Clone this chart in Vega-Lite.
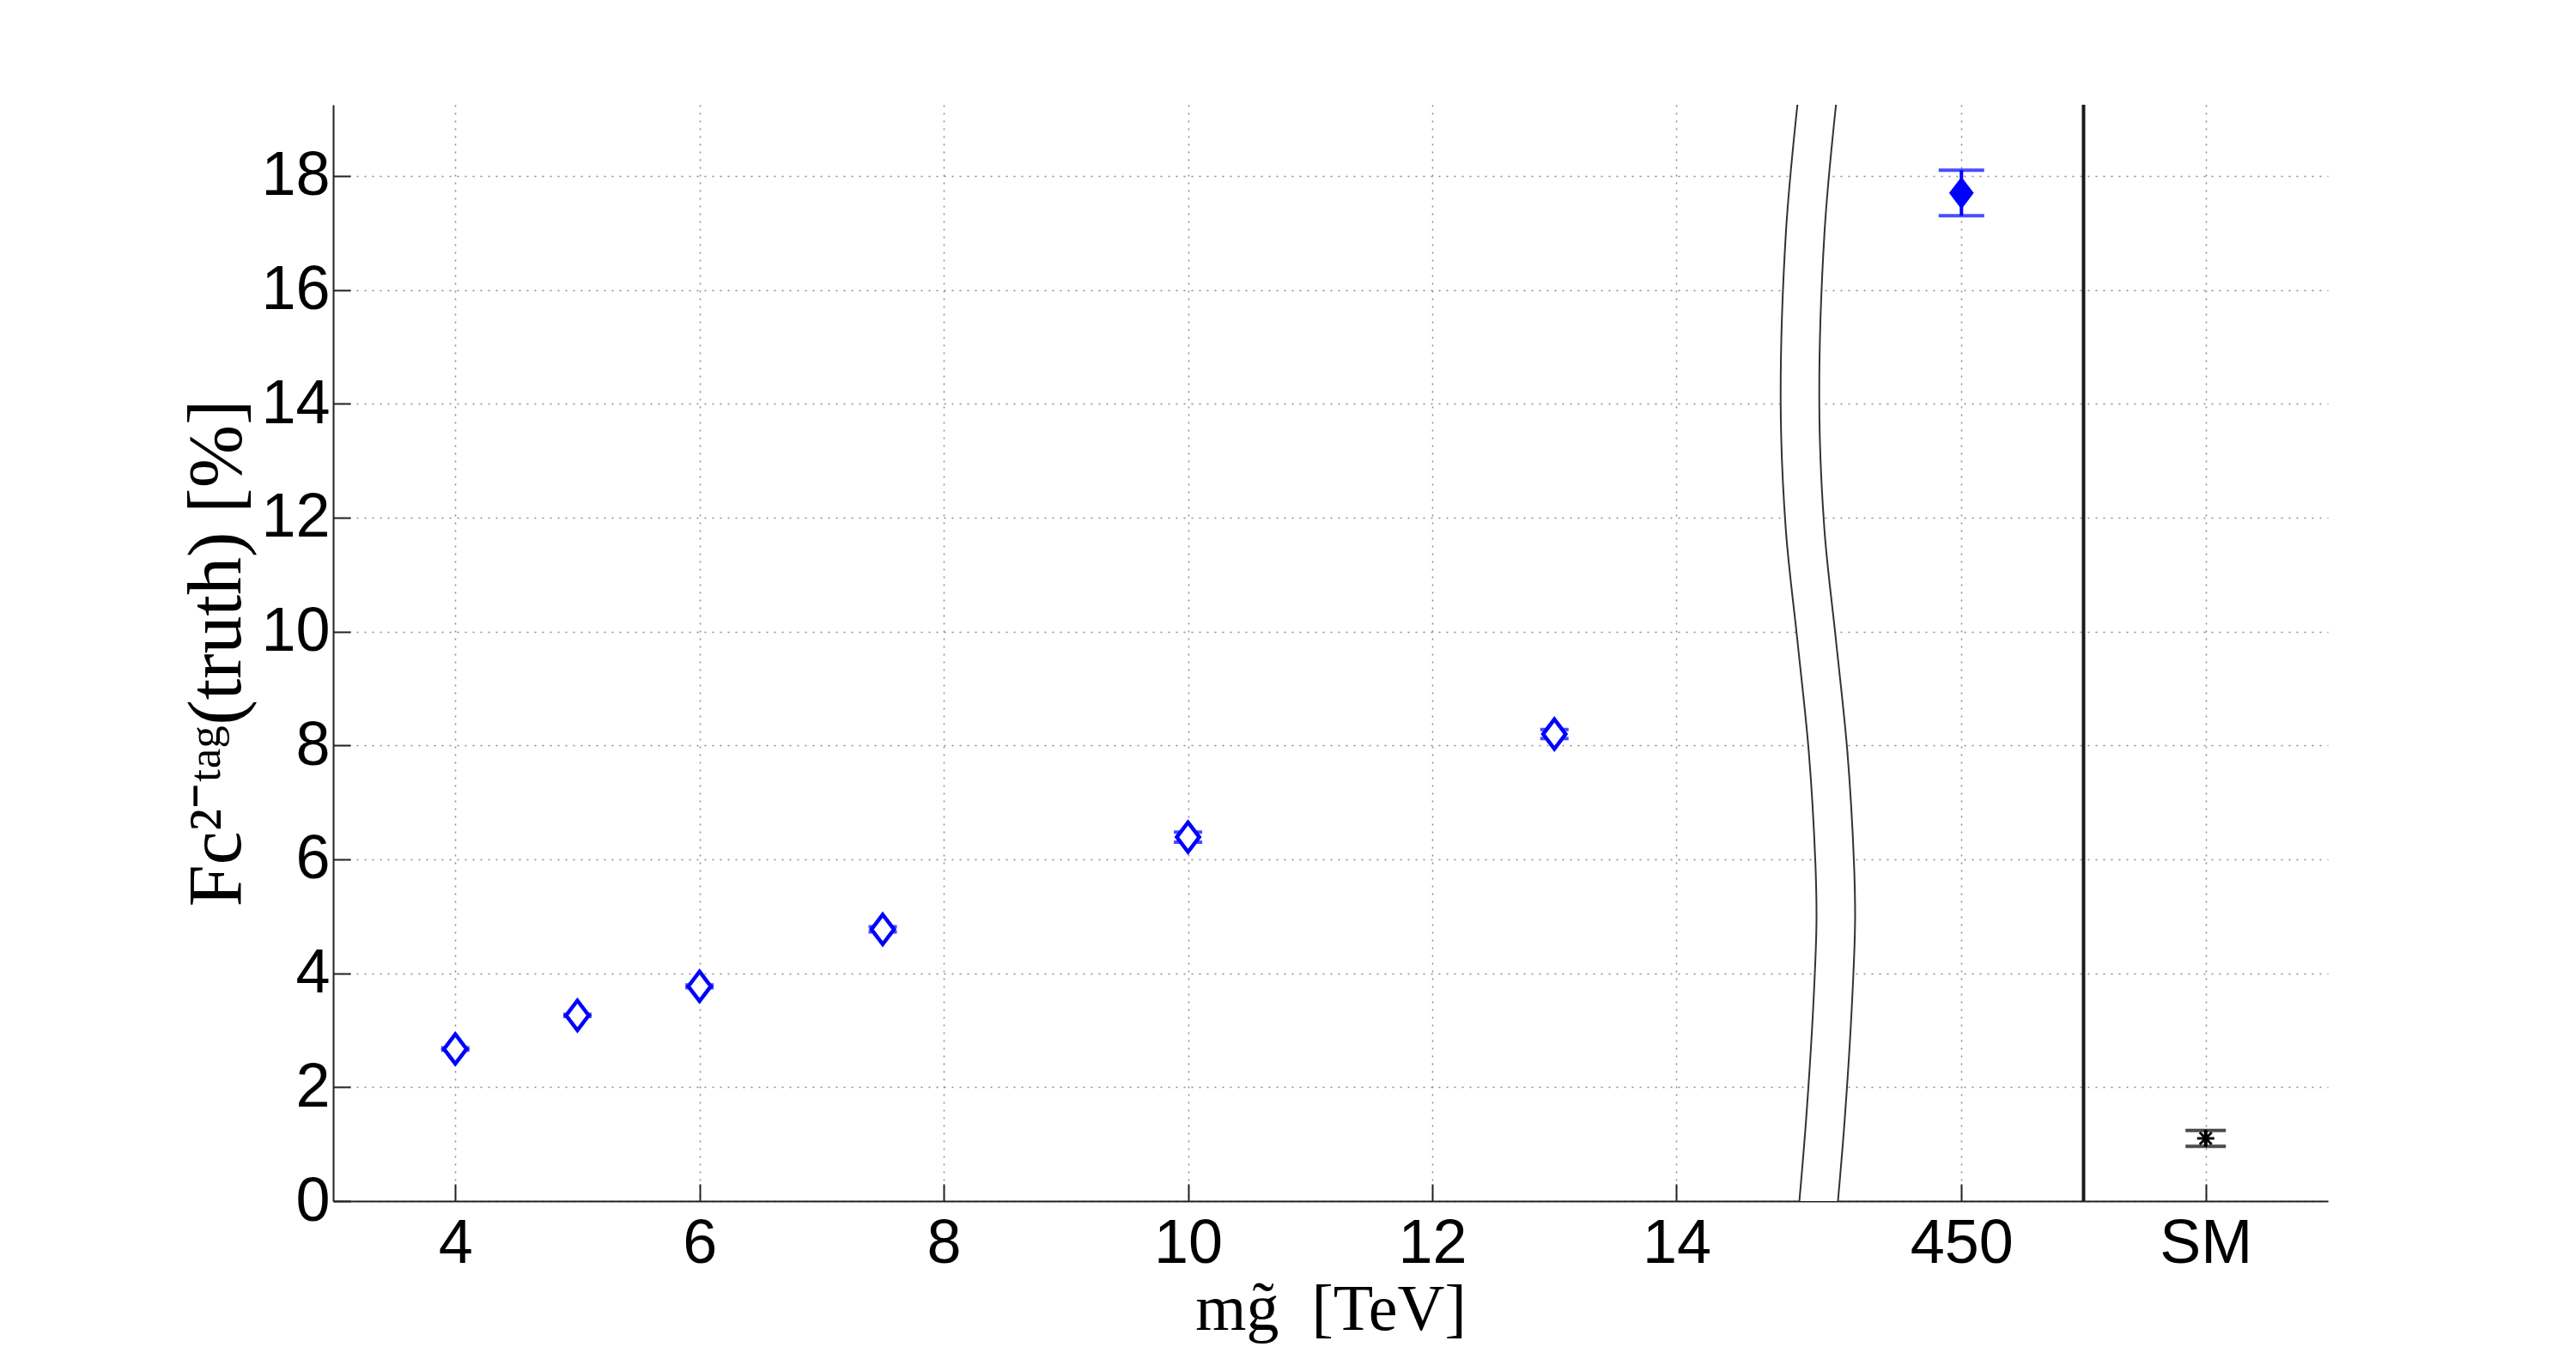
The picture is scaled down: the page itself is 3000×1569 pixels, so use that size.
{
  "$schema": "https://vega.github.io/schema/vega-lite/v6.json",
  "autosize": {"type": "none"},
  "width": 2323,
  "height": 1277,
  "padding": {"left": 388, "top": 122, "right": 289, "bottom": 170},
  "background": "white",
  "config": {
    "view": {"stroke": null},
    "axis": {
      "labelFont": "Liberation Sans",
      "labelFontSize": 72,
      "labelColor": "#000000",
      "titleFont": "Liberation Serif",
      "titleFontWeight": "normal",
      "titleFontSize": 72,
      "titleColor": "#000000",
      "domainColor": "#222222",
      "domainWidth": 2,
      "tickColor": "#222222",
      "tickWidth": 2,
      "tickSize": -20,
      "grid": true,
      "gridColor": "#8a8a8a",
      "gridDash": [2, 7],
      "gridWidth": 1.5,
      "gridOpacity": 1
    }
  },
  "datasets": {
    "brk": [
      {"y": 0, "xl": 15.006, "xr": 15.322},
      {"y": 1.4, "xl": 15.06, "xr": 15.376},
      {"y": 3.35, "xl": 15.118, "xr": 15.434},
      {"y": 4.9, "xl": 15.146, "xr": 15.462},
      {"y": 5.94, "xl": 15.137, "xr": 15.453},
      {"y": 7.89, "xl": 15.083, "xr": 15.399},
      {"y": 9.84, "xl": 14.99, "xr": 15.306},
      {"y": 11.79, "xl": 14.895, "xr": 15.211},
      {"y": 13.99, "xl": 14.853, "xr": 15.169},
      {"y": 16.98, "xl": 14.895, "xr": 15.211},
      {"y": 19.25, "xl": 14.99, "xr": 15.306}
    ],
    "pts": [
      {"x": 4, "y": 2.67, "err": 0.02, "grp": "open"},
      {"x": 5, "y": 3.26, "err": 0.02, "grp": "open"},
      {"x": 6, "y": 3.77, "err": 0.025, "grp": "open"},
      {"x": 7.5, "y": 4.77, "err": 0.045, "grp": "open"},
      {"x": 10, "y": 6.39, "err": 0.09, "grp": "open"},
      {"x": 13, "y": 8.2, "err": 0.08, "grp": "open"},
      {"x": 16.333, "y": 17.7, "err": 0.4, "grp": "filled"},
      {"x": 18.333, "y": 1.1, "err": 0.14, "grp": "SM"}
    ]
  },
  "encoding": {
    "x": {
      "type": "quantitative",
      "scale": {"domain": [3, 19.3333], "nice": false, "zero": false},
      "axis": {
        "title": "mg̃\u00a0\u00a0[TeV]",
        "titleFontSize": 76,
        "values": [4, 6, 8, 10, 12, 14, 16.333, 18.333],
        "labelExpr": "datum.value > 18 ? 'SM' : (datum.value > 16 ? '450' : datum.label)",
        "labelPadding": 34,
        "titlePadding": 4
      }
    },
    "y": {
      "type": "quantitative",
      "scale": {"domain": [0, 19.25], "nice": false, "zero": true},
      "axis": {
        "title": "Fc²⁻ᵗᵃᵍ(truth) [%]",
        "titleFontSize": 88,
        "values": [0, 2, 4, 6, 8, 10, 12, 14, 16, 18],
        "labelPadding": 24,
        "titlePadding": 6
      }
    }
  },
  "layer": [
    {
      "data": {"name": "brk"},
      "mark": {"type": "area", "orient": "horizontal", "interpolate": "catmull-rom", "fill": "white", "clip": true},
      "encoding": {
        "y": {"field": "y", "type": "quantitative"},
        "x": {"field": "xl", "type": "quantitative"},
        "x2": {"field": "xr"}
      }
    },
    {
      "data": {"name": "brk"},
      "mark": {"type": "line", "interpolate": "catmull-rom", "color": "#333333", "strokeWidth": 2, "clip": true},
      "encoding": {
        "y": {"field": "y", "type": "quantitative"},
        "x": {"field": "xl", "type": "quantitative"},
        "order": {"field": "y", "type": "quantitative"}
      }
    },
    {
      "data": {"name": "brk"},
      "mark": {"type": "line", "interpolate": "catmull-rom", "color": "#333333", "strokeWidth": 2, "clip": true},
      "encoding": {
        "y": {"field": "y", "type": "quantitative"},
        "x": {"field": "xr", "type": "quantitative"},
        "order": {"field": "y", "type": "quantitative"}
      }
    },
    {
      "data": {"values": [{"x": 17.333}]},
      "mark": {"type": "rule", "color": "#1a1a1a", "strokeWidth": 4},
      "encoding": {
        "x": {"field": "x", "type": "quantitative"}
      }
    },
    {
      "data": {"name": "pts"},
      "transform": [{"filter": "datum.grp == 'open'"}],
      "mark": {"type": "errorbar", "ticks": {"size": 33, "thickness": 4}, "thickness": 4, "color": "#0000ff"},
      "encoding": {
        "x": {"field": "x", "type": "quantitative"},
        "y": {"field": "y", "type": "quantitative"},
        "yError": {"field": "err"}
      }
    },
    {
      "data": {"name": "pts"},
      "transform": [{"filter": "datum.grp == 'filled'"}],
      "mark": {"type": "errorbar", "ticks": {"size": 53, "thickness": 4}, "thickness": 4, "color": "#0000ff"},
      "encoding": {
        "x": {"field": "x", "type": "quantitative"},
        "y": {"field": "y", "type": "quantitative"},
        "yError": {"field": "err"}
      }
    },
    {
      "data": {"name": "pts"},
      "transform": [{"filter": "datum.grp == 'SM'"}],
      "mark": {"type": "errorbar", "ticks": {"size": 47, "thickness": 4}, "thickness": 4, "color": "#000000"},
      "encoding": {
        "x": {"field": "x", "type": "quantitative"},
        "y": {"field": "y", "type": "quantitative"},
        "yError": {"field": "err"}
      }
    },
    {
      "data": {"name": "pts"},
      "transform": [{"filter": "datum.grp == 'open'"}],
      "mark": {"type": "point", "shape": "M0,-1L0.76,0L0,1L-0.76,0Z", "size": 1190, "filled": false, "fill": "white", "fillOpacity": 1, "stroke": "#0000ff", "strokeWidth": 4.5, "opacity": 1},
      "encoding": {
        "x": {"field": "x", "type": "quantitative"},
        "y": {"field": "y", "type": "quantitative"}
      }
    },
    {
      "data": {"name": "pts"},
      "transform": [{"filter": "datum.grp == 'filled'"}],
      "mark": {"type": "point", "shape": "M0,-1L0.76,0L0,1L-0.76,0Z", "size": 1190, "filled": true, "fill": "#0000ff", "stroke": "#0000ff", "strokeWidth": 2, "opacity": 1},
      "encoding": {
        "x": {"field": "x", "type": "quantitative"},
        "y": {"field": "y", "type": "quantitative"}
      }
    },
    {
      "data": {"name": "pts"},
      "transform": [{"filter": "datum.grp == 'SM'"}],
      "mark": {"type": "point", "shape": "M-1,0L1,0M0,-1L0,1M-0.7,-0.7L0.7,0.7M-0.7,0.7L0.7,-0.7", "size": 400, "filled": false, "stroke": "#000000", "strokeWidth": 3, "opacity": 1},
      "encoding": {
        "x": {"field": "x", "type": "quantitative"},
        "y": {"field": "y", "type": "quantitative"}
      }
    }
  ]
}
